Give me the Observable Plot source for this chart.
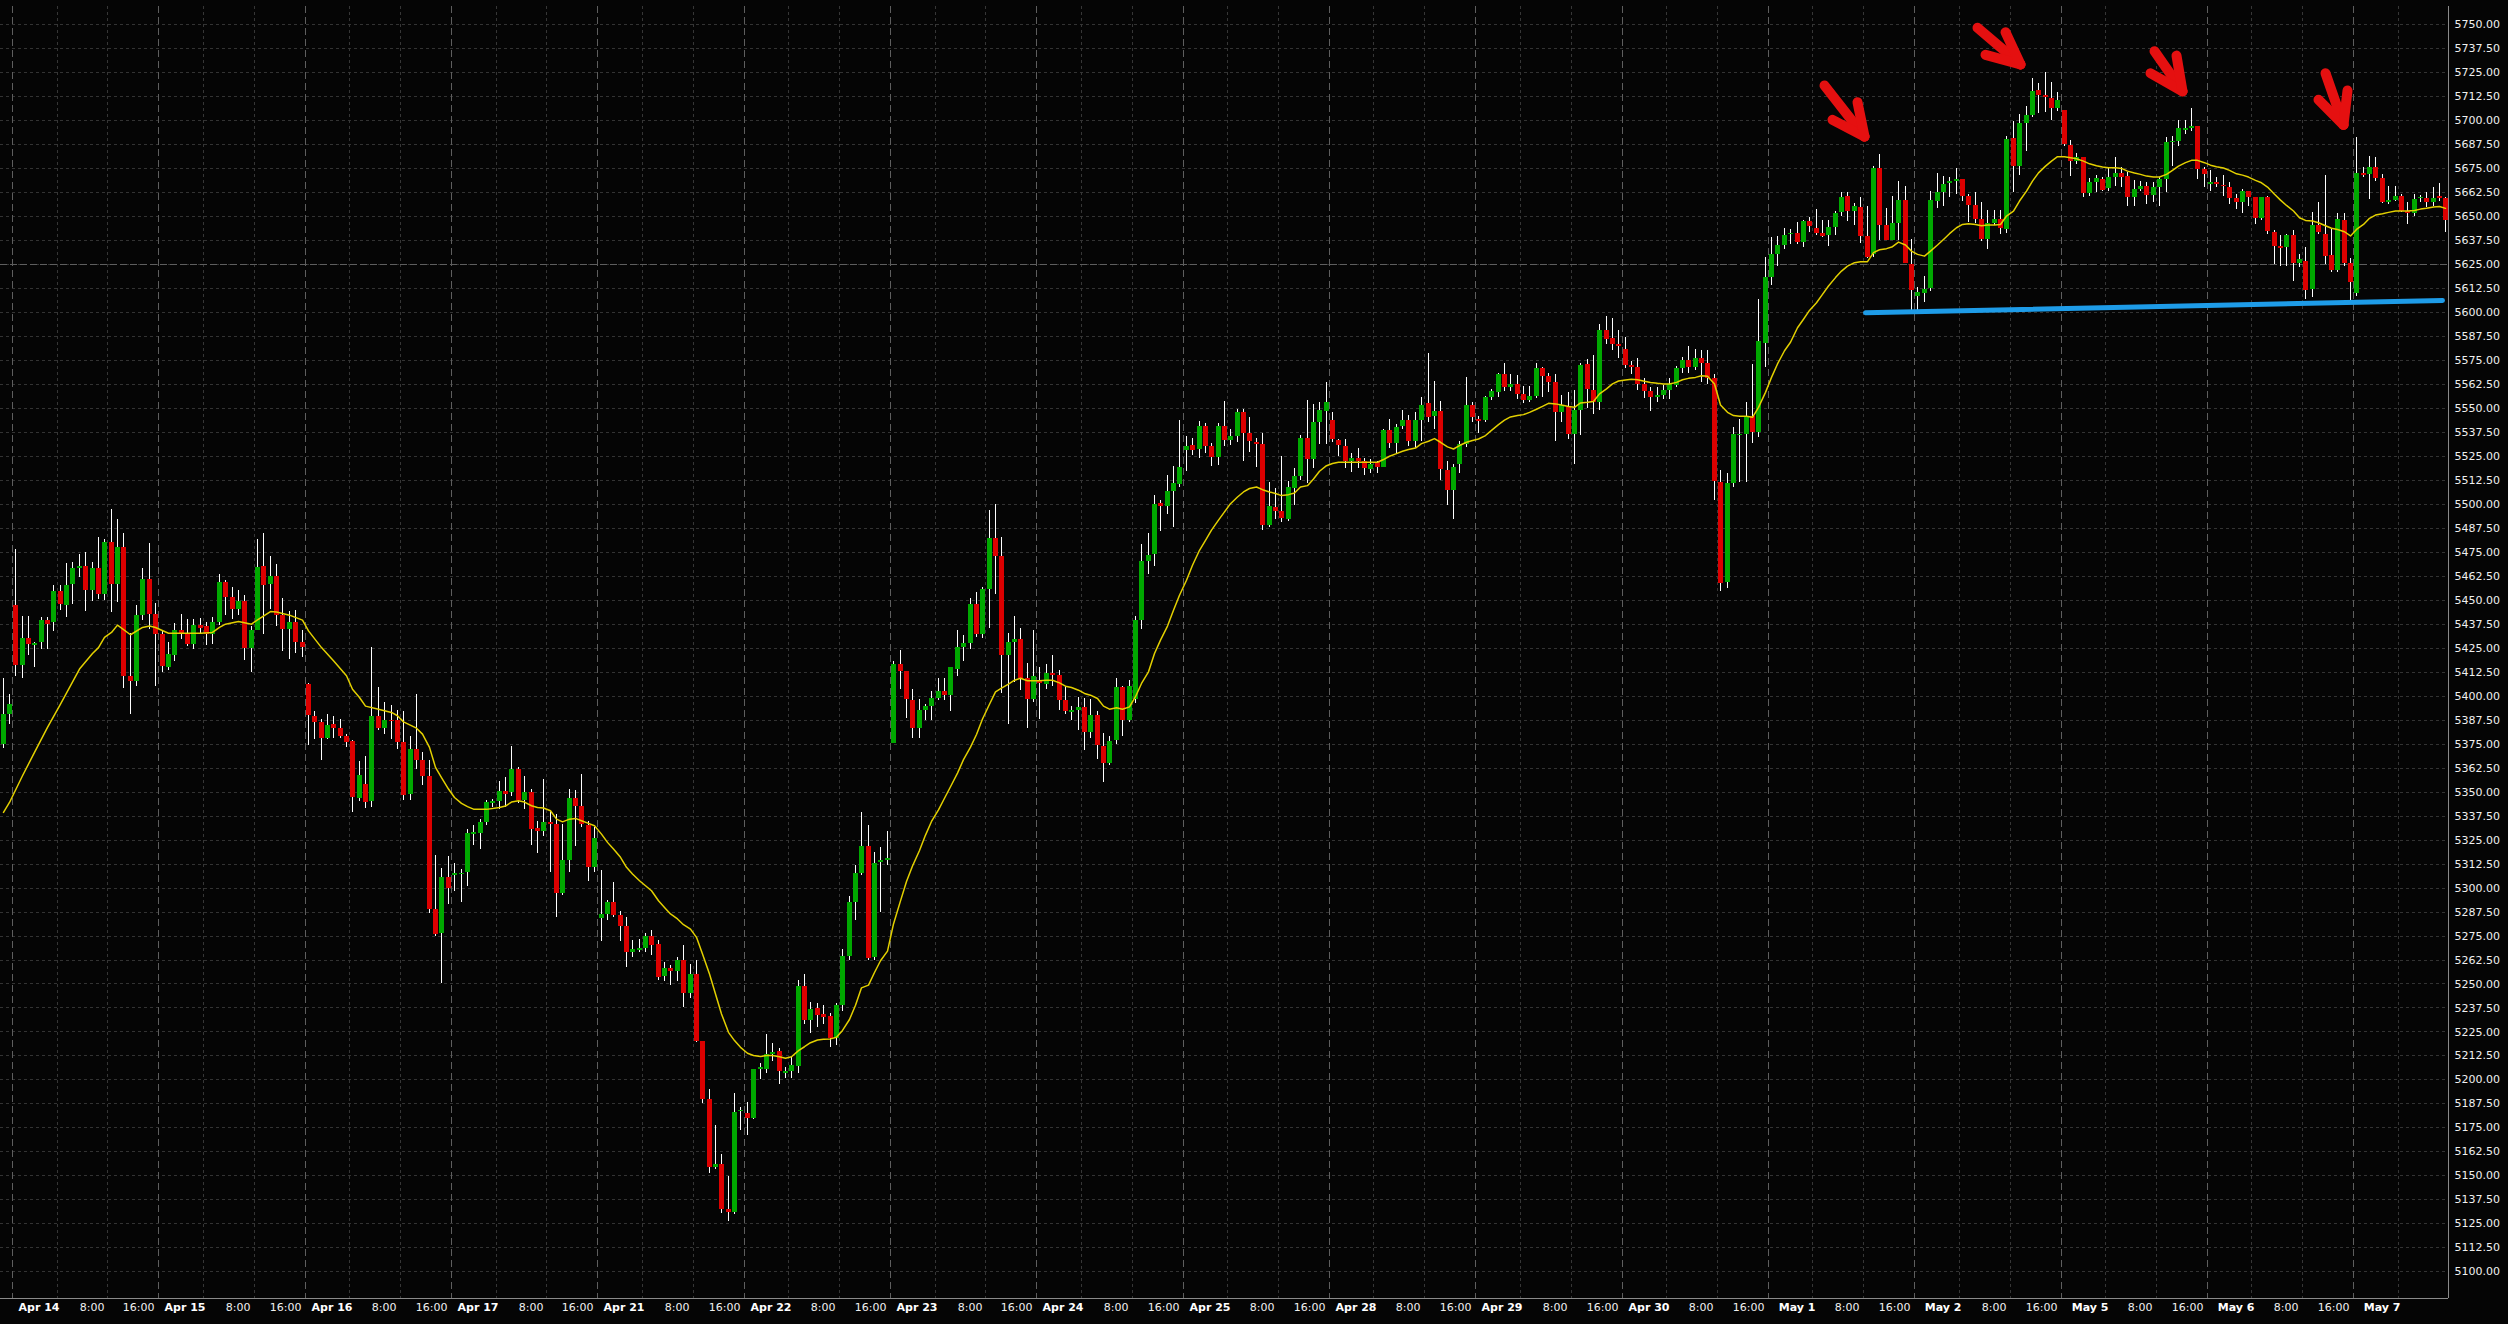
<!DOCTYPE html>
<html>
<head>
<meta charset="utf-8">
<script src="https://cdn.jsdelivr.net/npm/d3@7"></script>
<script src="https://cdn.jsdelivr.net/npm/@observablehq/plot@0.6"></script>
<style>
  html, body { margin: 0; padding: 0; background: #050505; }
  #chart { width: 2508px; height: 1324px; overflow: hidden; }
</style>
</head>
<body>
<div id="chart"></div>
<script>
// ---- Session labels (one session = 23 hourly bars) ----
const days = ["Apr 14","Apr 15","Apr 16","Apr 17","Apr 21","Apr 22","Apr 23","Apr 24","Apr 25",
              "Apr 28","Apr 29","Apr 30","May 1","May 2","May 5","May 6","May 7"];
const timeLabels = [["8:00", 7], ["16:00", 15]];   // label, bars after session open
const barsPerSession = 23;
const firstSessionOpen = 1.5;                        // bar position of the "Apr 14" boundary

// ---- Price axis ticks ----
const yTicks = d3.range(5100, 5750.001, 12.5);
const brightLevel = [5625];

// ---- Hourly candles [open, high, low, close] ----
const candles = [
[5375,5409.4,5372.9,5390.3],[5390.3,5401,5385.4,5395.8],[5447,5476.6,5410,5415.8],[5415.8,5441.7,5409.2,5429.9],
[5429.9,5441.7,5421,5426.7],[5426.2,5428,5415,5427.4],[5427.8,5441,5424.1,5439.6],[5439.6,5441,5424.1,5437.5],
[5438.4,5457.5,5433.5,5454.3],[5454.3,5457.8,5444.4,5447.6],[5447,5469.3,5441,5457.8],[5458,5469.6,5448,5466.7],
[5466.3,5473.6,5461.8,5467.4],[5467.4,5474.7,5444.1,5454.9],[5454.9,5469.6,5449.3,5466.7],[5466.3,5482.8,5450.5,5452.8],
[5452.8,5481.4,5449.7,5479.9],[5479.9,5497.4,5443.6,5458],[5458,5491.8,5448.8,5477.3],[5477.3,5484.7,5404,5410.2],
[5410.2,5432.8,5390.3,5407.6],[5407.6,5447,5404.9,5441.8],[5441.8,5466.3,5439.6,5460.6],[5460.6,5479.5,5434.9,5442.4],
[5442.4,5448.3,5404.9,5432],[5432,5434.4,5412.2,5415.3],[5414.9,5427.8,5413.2,5421.5],[5421,5437.8,5418,5434],
[5434,5442.4,5429.7,5432.3],[5432.3,5439.9,5425.7,5427.1],[5427.1,5439.9,5424.1,5436.6],[5436.6,5440.4,5431.9,5435.4],
[5436.1,5438.4,5426.2,5431.9],[5431.9,5441,5427.1,5438.2],[5438.2,5463.2,5436.6,5459],[5459,5460.4,5441.8,5451.4],
[5451.4,5456.6,5440.1,5445],[5445,5454.9,5441.8,5449.1],[5449.1,5452.3,5418.4,5425],[5425,5436.1,5412.3,5434],
[5434.2,5481.8,5434,5466.8],[5467.4,5484.9,5431.9,5457.6],[5458,5472.6,5445.3,5462.2],[5462.2,5468.4,5436.1,5441.8],
[5441.8,5451,5423.3,5434.5],[5434.5,5444.1,5419.1,5438.2],[5438.2,5444.4,5422.4,5427.9],[5427.8,5434,5420.1,5425.2],
[5405.9,5406.6,5374.1,5389.8],[5389.2,5391.8,5377.3,5386.4],[5386.1,5388,5366.7,5378],[5378,5390.6,5377.6,5384.6],
[5385.1,5389.6,5378,5383.2],[5383,5388,5378,5379.2],[5378.8,5380.2,5373.2,5375.9],[5376.2,5376.7,5339.4,5347.2],
[5346.7,5366,5345,5358.5],[5353.7,5368.4,5341.7,5344.6],[5345,5425.2,5342,5389.2],[5389.2,5404.5,5382,5383.3],
[5383.3,5396.5,5380.2,5387.5],[5387.5,5395.3,5377.6,5386.6],[5387.2,5392.4,5372.4,5375.9],[5375.9,5392.2,5345.4,5348.1],
[5348.6,5378.8,5345.4,5372],[5372,5400.7,5362,5366.3],[5366.3,5370.7,5353.3,5358],[5358,5366.3,5286.8,5288.7],
[5288.7,5316.8,5274.6,5276],[5276.4,5310,5250.3,5305.6],[5305.6,5316.3,5291.3,5299.8],[5306.3,5312.9,5298.1,5307.8],
[5306.8,5309.9,5292.5,5307.6],[5308.2,5330.7,5300.7,5328.5],[5327.7,5332.5,5322.1,5328.8],[5328.5,5335.9,5320.3,5334.2],
[5334.2,5345.5,5332.5,5344.6],[5344,5346.4,5342.2,5345.3],[5345.3,5355.6,5340.9,5350.4],[5350.4,5357.8,5342,5348.8],
[5349.7,5373.8,5347.6,5361.7],[5361.6,5362.8,5344.1,5345.8],[5345.8,5358.1,5340.9,5349.7],[5349.7,5351.1,5322.2,5330.6],
[5330.9,5334.5,5318,5329.5],[5329.5,5356.4,5326.7,5334],[5334,5340.3,5308.2,5333.2],[5333.3,5338.2,5284.7,5297.2],
[5297.2,5333.3,5296,5314.2],[5314.2,5351.6,5308.2,5346.5],[5346.5,5350.7,5321.5,5342.4],[5342.7,5359.4,5331.6,5333],
[5332.5,5334.7,5303.5,5310.8],[5310.8,5331.6,5308.2,5325.7],[5284.2,5309,5272.2,5286.2],[5286.3,5293.7,5283,5292.7],
[5292.4,5302.8,5284.7,5285.6],[5285.6,5287.7,5272,5280],[5280,5284.4,5258.7,5266.5],[5266.5,5272.6,5263.9,5267.9],
[5267.4,5273.4,5266.5,5268.6],[5268.6,5276.4,5266.5,5274.7],[5274.7,5277.8,5264.8,5270],[5270.5,5272.6,5251.7,5253.5],
[5253.8,5261.3,5251.4,5258],[5258,5259.7,5249.1,5256.6],[5256.6,5263.9,5251.4,5262.2],[5262.2,5270,5237.8,5245.1],
[5245.1,5260.4,5242.7,5254.9],[5254.9,5262.2,5219.6,5220.1],[5220.1,5220.1,5187.5,5189.8],[5189.8,5194.8,5151,5154.5],
[5154.2,5176.2,5153.1,5156],[5156,5161.1,5130.2,5132.5],[5132.5,5149.7,5126.4,5131.1],[5131.1,5193,5129.9,5183.2],
[5183.5,5185.8,5173.6,5184.3],[5182.3,5188.4,5171,5180],[5180,5205.4,5179.2,5205.4],[5205.4,5208.7,5200,5206.3],
[5205.7,5223.6,5203.1,5213.5],[5213.5,5218.8,5209.7,5214.5],[5214.7,5216.3,5197.6,5204.6],[5203.6,5206.7,5200.6,5204.6],
[5204.6,5211.7,5200.6,5207.7],[5207.1,5252,5203.2,5248.6],[5248.6,5255,5228.8,5230.8],[5230.8,5240.3,5224.2,5236.7],
[5237.3,5240,5227.2,5233.5],[5233.9,5238.9,5228.8,5232.7],[5233.3,5234.5,5216.7,5221.4],[5221.4,5240,5217.7,5238.9],
[5238.9,5268.1,5235.9,5264.1],[5264.1,5295.4,5262.5,5292.3],[5292.3,5311.5,5283.3,5307.5],[5307.5,5339.5,5306.5,5321.4],
[5321.4,5332.7,5262.5,5263.1],[5263.7,5318.5,5262.1,5312.9],[5313.3,5320.9,5287.3,5314.5],[5314.5,5329.6,5311.5,5315.1],
[5375.2,5417.9,5375.2,5416.7],[5416.7,5423.8,5403.6,5412.7],[5412.7,5412.7,5388.1,5398],[5397.6,5403.6,5378,5382.9],
[5382.9,5398.2,5378,5392.5],[5392.5,5395.6,5387.1,5394.8],[5394.8,5402.2,5387.5,5398.8],[5398.8,5409.3,5397.6,5402.2],
[5402.2,5409.3,5397.6,5400.2],[5400.2,5414.9,5392.1,5414.7],[5414.1,5434.3,5410.3,5425.4],[5425.4,5431.5,5418.1,5427.4],
[5427.4,5450.8,5424.4,5447.6],[5447.6,5454,5430.8,5431.9],[5431.9,5456.7,5429.8,5455.6],[5455.6,5496.6,5435.3,5482.3],
[5482.3,5499.8,5453.2,5472.8],[5472.8,5482.9,5401.2,5421],[5421,5432.5,5385.1,5428],[5428.2,5441.5,5407.3,5429.6],
[5429.6,5435.5,5403.2,5409.3],[5409.2,5417,5383.2,5398.3],[5398.3,5434,5396.5,5410],[5407.8,5415,5387.8,5406.6],
[5406.3,5416.5,5403.5,5411.8],[5411.8,5421,5405,5410.6],[5410.9,5413.5,5392.7,5397.9],[5397.6,5404.9,5390.5,5391.8],
[5391.3,5394.4,5387.5,5392.7],[5392.7,5399.1,5382.3,5394.1],[5394.1,5398.8,5371.9,5380.9],[5380.9,5398.3,5378,5389.8],
[5389.8,5391.8,5367,5374.1],[5373.6,5380.6,5354.9,5365],[5365,5378.8,5364.1,5376.6],[5377.1,5409.2,5374.8,5404.3],
[5404.3,5405.2,5378.8,5387.5],[5387.5,5408,5386.3,5404.9],[5398.3,5441.3,5396,5439.2],[5439.2,5479,5434.7,5470],
[5470,5484.5,5463.4,5473.1],[5474,5504.5,5467.4,5499.8],[5500.2,5501.7,5485.9,5499],[5498.6,5514.9,5494.6,5506.4],
[5506.4,5519.8,5487.8,5510.8],[5510.4,5543.8,5508.7,5519.4],[5528.1,5535.1,5517,5529.9],[5530.4,5534.4,5525.2,5528.1],
[5528.5,5542.9,5524,5540.6],[5540.3,5542,5526.4,5530.2],[5529.9,5531.9,5519.8,5524.3],[5524.3,5542,5520.3,5540.3],
[5540.3,5553.3,5530.2,5533.3],[5533.3,5538.9,5530.7,5535.1],[5535.1,5549.3,5532.1,5547.6],[5547.6,5549.3,5522.2,5536.8],
[5536.8,5545.1,5526.9,5532.6],[5532.1,5534.5,5519.4,5531.1],[5530.9,5536.8,5486.5,5488.7],[5488.7,5511.1,5487.8,5498.6],
[5498.1,5508,5492,5496],[5496,5524.7,5490.3,5492.5],[5492,5512,5491.1,5508.5],[5508,5518.4,5499.3,5514.2],
[5514.2,5535.8,5512.3,5534.5],[5534.5,5554.2,5510.8,5523.3],[5523.3,5551.9,5518.4,5542.4],[5542.4,5553.1,5531.1,5548.6],
[5548.3,5563.2,5531.1,5552.8],[5543.4,5547.9,5532,5533.7],[5533.2,5533.7,5525,5530.6],[5530.2,5533.7,5518.7,5522.2],
[5522.2,5526.4,5516.3,5524.1],[5524.1,5529.3,5518.4,5522.2],[5522.2,5524,5514.9,5518.4],[5518.1,5523.3,5516,5520.5],
[5521.5,5522.4,5515.8,5519.4],[5519.4,5538.9,5518.9,5538.2],[5538.2,5544.1,5529.3,5531.6],[5531.6,5541.5,5526.7,5539.8],
[5540.3,5549.1,5538.9,5543.4],[5543.4,5546.4,5530.2,5532.5],[5532.5,5547.6,5529.2,5543.4],[5543.4,5555.4,5532.8,5551.7],
[5552.3,5578.8,5542.4,5545.1],[5545.7,5564.1,5538.9,5548.1],[5548.1,5553.6,5512.5,5518.1],[5517.5,5522.4,5499.5,5507],
[5507,5520.7,5492,5519.4],[5520.6,5532.8,5516,5530.9],[5530.9,5565.8,5529.6,5551.7],[5551.7,5553.1,5542.4,5545],
[5544.1,5545.5,5536.8,5542.9],[5543.4,5555.9,5542.7,5555.4],[5555.4,5559.7,5554.2,5558.5],[5558,5568.1,5555.7,5567.4],
[5567.4,5573.6,5558.5,5560.6],[5560.8,5567.4,5558.9,5562.2],[5562.2,5567,5554.5,5557],[5557,5561.5,5552.4,5554],
[5554,5561.5,5553.1,5555.9],[5556.3,5573.6,5555,5570.5],[5570.5,5571,5555.7,5566.5],[5566.5,5567.9,5558,5563.5],
[5563.2,5567.5,5532.6,5547.9],[5547.9,5556.9,5542.7,5551.2],[5550.3,5558.3,5534,5536.6],[5536.6,5559.5,5520.5,5549.1],
[5549.1,5573.1,5535.8,5572.1],[5572.7,5575.3,5550,5559.7],[5559.5,5577.4,5546.7,5553.1],[5553.1,5593.9,5548.8,5590.3],
[5590.3,5597.7,5583,5586.1],[5586.5,5597,5580,5583],[5583.2,5590.5,5575.7,5582.1],[5580.4,5587,5570.8,5572.2],
[5572.2,5574.3,5567.5,5571.2],[5571,5575.7,5559.2,5562.3],[5562.3,5565.6,5555.2,5558.7],[5558.7,5560.9,5548.3,5555.4],
[5555.4,5560.6,5553.1,5556.9],[5556.9,5561.8,5554.5,5559.2],[5559.2,5565.6,5554.5,5562.3],[5561.8,5571.9,5560.9,5570.5],
[5570.5,5576.6,5567.9,5574.7],[5574.7,5582.1,5567.9,5571],[5571,5580.9,5569.6,5576.2],[5576.2,5580,5563.5,5573.1],
[5573.1,5580,5562.3,5565.3],[5565.3,5567.5,5501.9,5511.8],[5511.1,5517.5,5454.5,5458.5],[5459.4,5515.8,5455.9,5510.6],
[5510.6,5539.8,5508.9,5536.1],[5535.6,5544.1,5511.1,5536.6],[5536.6,5552.8,5511.5,5545.7],[5545.7,5572.6,5531.4,5537.2],
[5537.2,5606.6,5534.9,5584.7],[5584,5628.6,5571,5618.4],[5617.9,5639.1,5613.9,5630.2],[5630.2,5639.6,5624,5634.7],
[5634.7,5643.8,5633,5640.3],[5640.5,5643.4,5635.6,5641],[5641.3,5646.7,5635.1,5636.3],[5636.3,5647.9,5633.7,5647.6],
[5647.6,5649.3,5641.7,5644.6],[5643.8,5653.8,5639.8,5641.3],[5641.3,5647.9,5638.9,5639.6],[5639.8,5647.9,5634.5,5644.4],
[5644.4,5652.4,5639.8,5651.4],[5651.9,5662.2,5649.7,5660.1],[5660.6,5662.2,5647.6,5652.3],[5652.3,5656.6,5645.3,5654.9],
[5654.5,5659.7,5635.8,5639.4],[5639.4,5654.9,5628.1,5628.5],[5630.2,5675.9,5628.5,5675.2],[5675.2,5682.3,5637.2,5645],
[5645,5654,5637.2,5637.7],[5637.7,5660.6,5637.2,5646.5],[5646.5,5668.4,5637.5,5658.5],[5658.5,5665.8,5625.3,5625.3],
[5625,5638,5601,5611.5],[5608,5612.8,5601,5610.1],[5609.7,5618.9,5605,5611.8],[5612.3,5663.2,5611.1,5658.5],
[5658,5672.6,5654,5662.3],[5662.3,5671,5654.9,5666.7],[5667.4,5670.1,5659.7,5668.4],[5668.4,5675,5661.5,5669.4],
[5669,5669.4,5657.6,5660.6],[5660.6,5661.5,5646.7,5655.8],[5655.8,5662.2,5646.3,5648.4],[5648.4,5657.1,5636.9,5637.8],
[5637.8,5653.1,5633,5646.5],[5646.5,5653.3,5645.5,5648.4],[5648.6,5653.1,5640.6,5643.8],[5643.1,5691.8,5641,5690.3],
[5690.6,5699.3,5662.7,5675.9],[5676.2,5703.1,5671.4,5698.6],[5698.6,5707.1,5684,5702.8],[5702.8,5721.9,5701.4,5715.3],
[5715.8,5719.1,5703.5,5713.2],[5713.2,5724.8,5704,5711.8],[5711.5,5719.6,5700,5706.3],[5706.3,5714.8,5704.9,5710.4],
[5705.2,5705.2,5686.6,5687.5],[5687.2,5689.8,5670.7,5678.5],[5678.5,5683,5677.1,5680.6],[5680.6,5680.9,5659.7,5661.8],
[5661.8,5669.8,5660.2,5667.7],[5667.7,5671.5,5662.3,5669.8],[5669.3,5670.1,5663.2,5663.7],[5664.4,5675.3,5663.2,5670.5],
[5670.5,5680.6,5665.8,5672.6],[5672.6,5675.3,5664.9,5670.5],[5671,5672.7,5655,5659.7],[5659.7,5668.8,5655,5664.2],
[5664.2,5668.1,5663.2,5665.8],[5665.8,5667.5,5656.3,5660.8],[5660.8,5667.5,5657.1,5664.9],[5664.9,5670.5,5655,5669.1],
[5669.1,5691,5662.3,5688.7],[5688.4,5691.8,5676,5689.2],[5689.2,5700,5686.6,5695.7],[5694.6,5700.2,5692.7,5695.7],
[5695.7,5706.1,5694.3,5697],[5697,5697,5669.3,5674.3],[5674.3,5675.3,5664.9,5671.7],[5666.7,5674,5663.2,5667.4],
[5667.4,5670.1,5665.3,5666.7],[5666.3,5671.4,5660.6,5665.5],[5665.3,5667.5,5656.3,5659.4],[5659.2,5661.5,5653.6,5657.5],
[5657.5,5664.1,5651.4,5663.2],[5663.2,5663.2,5655,5659.7],[5659.7,5659.7,5645.8,5649],[5649,5659.7,5648,5659.7],
[5659.7,5660.6,5640.6,5642],[5641.5,5642.7,5625,5634.5],[5634.2,5640.1,5624.1,5633.2],[5633.7,5640.6,5624.1,5639.8],
[5639.8,5642.7,5616.3,5625.3],[5625.3,5630.2,5623.3,5627.3],[5626.7,5634,5606.8,5611.5],[5611.8,5651.9,5607.6,5645],
[5645.5,5657.1,5640.6,5641.8],[5640.6,5671.5,5625,5629.3],[5629.7,5643.8,5620.7,5621.9],[5621.9,5651.4,5620.7,5648.4],
[5647.9,5651.4,5624.1,5625.3],[5625.5,5627.9,5606.3,5615.5],[5609.7,5691,5608,5672.4],[5672.2,5675.3,5670.1,5671.2],
[5671.7,5681.4,5658.9,5675.7],[5675.3,5680.9,5668.4,5669.6],[5669.6,5671.9,5656.6,5657.1],[5657.1,5665.8,5656.3,5658.5],
[5658.5,5665.5,5658,5660.6],[5660.6,5661.5,5651.9,5652.8],[5652.8,5657.1,5645.8,5651.4],[5651.4,5661.5,5650.2,5658.9],
[5659.2,5661.1,5657.1,5660.1],[5659.4,5662.3,5654.5,5657.1],[5657.1,5664.9,5655.4,5659.4],[5660.1,5667.2,5658,5659.4],
[5659.4,5660.1,5641.5,5647.9]
];

// ---- Yellow moving average: [bar, value] ----
const movingAverage = [
[0,5339.4],[1,5344.6],[3,5358.5],[5,5370.7],[7,5383.7],[9,5395.8],[12,5414.1],[14,5422.2],[15,5425.3],[16,5430.6],
[17,5433.2],[18,5437],[20,5432],[22,5435.8],[23,5436.5],[24,5435.8],[26,5432.8],[28,5432.8],[31,5432.8],[33,5433.2],
[34,5435.8],[35,5437.5],[37,5438.9],[39,5437.5],[40,5439.8],[42,5444.1],[43,5443.8],[45,5442.2],[47,5439.6],[48,5434],
[50,5425.3],[52,5418.4],[54,5410.6],[55,5403.6],[56,5399.3],[57,5394.8],[59,5393.2],[61,5391.5],[62,5389.8],[63,5386.6],
[65,5383.3],[66,5380.2],[67,5373.3],[68,5362.9],[69,5357.6],[70,5351.6],[71,5347.2],[72,5344.1],[73,5342.4],[74,5341.1],
[76,5341],[78,5342],[79,5342.7],[80,5344.8],[81,5345.5],[82,5344.8],[83,5342.9],[84,5342],[85,5341.7],[86,5340.3],
[87,5335.9],[88,5334.5],[89,5335.9],[90,5336.3],[91,5335.1],[92,5333.7],[93,5332.5],[94,5328.1],[95,5323.8],[96,5320.3],
[97,5316],[98,5310.8],[99,5307.3],[100,5303.8],[101,5301.2],[102,5298.6],[103,5293.4],[104,5289.9],[105,5286.5],[106,5283.9],
[107,5280.9],[108,5278.6],[109,5274.3],[110,5265.6],[111,5255.2],[112,5244.8],[113,5234.4],[114,5224.8],[115,5220.5],[116,5217],
[117,5213.9],[118,5212.7],[119,5212.2],[120,5212.7],[121,5212.7],[122,5212.1],[123,5211.3],[124,5212.1],[125,5215.3],[126,5217.3],
[127,5219.4],[128,5220.8],[129,5221.2],[130,5221.4],[131,5222.2],[132,5225.8],[133,5231.5],[134,5238.9],[135,5248],[136,5249.4],
[137,5256],[138,5262.1],[139,5267.1],[140,5281.3],[141,5293.3],[142,5303.4],[143,5311.5],[144,5319.6],[145,5327.6],[146,5334.7],
[147,5340.7],[148,5346.8],[149,5352.8],[150,5359.9],[151,5366.9],[152,5373.4],[153,5380],[154,5388.1],[155,5395.8],[156,5402.2],
[157,5404.2],[158,5406.3],[159,5408.3],[160,5409.3],[161,5408],[162,5408],[163,5408],[164,5408.3],[165,5408.3],[166,5406.9],
[167,5405.2],[168,5404.5],[169,5403.1],[170,5401.4],[171,5400.5],[172,5398.8],[173,5394.8],[174,5393.2],[175,5393.9],[176,5393.2],
[177,5394.4],[178,5399.7],[179,5406.6],[180,5412.7],[181,5422.2],[182,5429.2],[183,5436.5],[184,5444.8],[185,5452.6],[186,5460.4],
[187,5468.2],[188,5476],[189,5481.2],[190,5486.5],[191,5491.7],[192,5496],[193,5500.3],[194,5503.8],[195,5506.4],[196,5508.2],
[197,5509],[198,5507.6],[199,5506.4],[200,5505.6],[201,5504.5],[202,5505],[203,5505.9],[204,5509],[205,5509.7],[206,5513.2],
[207,5517.2],[208,5520.1],[209,5521.2],[210,5521.9],[216,5521.9],[217,5523.3],[218,5525],[219,5526.4],[220,5527.6],[221,5528.5],
[222,5529.3],[223,5531.6],[224,5532.8],[225,5534.2],[226,5532.3],[227,5529.9],[228,5528.8],[229,5530.6],[230,5532.3],[231,5533.2],
[232,5534],[233,5535.8],[234,5538.5],[235,5541.5],[236,5543.8],[237,5545.5],[238,5546.2],[239,5546.7],[240,5547.9],[241,5549.5],
[242,5551],[243,5552.6],[244,5552.3],[245,5551.7],[246,5550.9],[247,5550.5],[248,5552.8],[249,5553.1],[250,5553.5],[251,5557.5],
[252,5560.1],[253,5562.7],[254,5564.2],[255,5564.8],[256,5565.1],[257,5564.9],[258,5564.1],[259,5563.5],[260,5563],[261,5562.7],
[262,5562.7],[263,5563.5],[264,5564.9],[265,5565.6],[266,5566.1],[267,5567],[268,5566.7],[269,5562.7],[270,5551.7],[271,5547.9],
[272,5546.2],[273,5545.8],[274,5545.8],[275,5545.3],[276,5550.5],[277,5558.3],[278,5566.1],[279,5573.1],[280,5580],[281,5584.4],
[282,5592],[283,5596.4],[284,5601],[285,5605],[286,5609.4],[287,5613.7],[288,5618.1],[289,5621.5],[290,5624.1],[291,5625.9],
[292,5626.4],[293,5626.4],[294,5631.1],[295,5632.6],[296,5633.2],[297,5634.2],[298,5636.6],[299,5635.1],[300,5631.9],[301,5630.2],
[302,5629.3],[303,5631.9],[304,5635.1],[305,5638],[306,5641],[307,5644.1],[308,5645.8],[309,5646.2],[310,5645.8],[311,5645.1],
[312,5645.5],[313,5645.5],[314,5645.8],[315,5650.2],[316,5652.8],[317,5658],[318,5663.2],[319,5668.4],[320,5672.7],[321,5676.2],
[322,5678.8],[323,5681.1],[324,5681.1],[325,5680.6],[326,5680],[327,5678.8],[328,5677.4],[329,5676.4],[330,5675.7],[331,5675.3],
[332,5675.3],[333,5675],[334,5673.6],[335,5672.6],[336,5671.9],[337,5671],[338,5670.5],[339,5670.5],[340,5671.9],[341,5674],
[342,5676.2],[343,5678],[344,5679.2],[345,5679.2],[346,5678],[347,5676.7],[348,5675.9],[349,5675.2],[350,5674],[351,5672.2],
[352,5671.5],[353,5670.5],[354,5668.8],[355,5667.5],[356,5665.3],[357,5661.5],[358,5658.5],[359,5655.7],[360,5652.8],[361,5649.3],
[362,5647.9],[363,5647.6],[364,5646.7],[365,5645.1],[366,5643.8],[367,5643.2],[368,5642],[369,5639.8],[370,5643.2],[371,5645.8],
[372,5649],[373,5650.7],[374,5651.4],[375,5652.1],[376,5652.8],[377,5652.8],[378,5652.8],[379,5653.1],[380,5653.8],[381,5654.2],
[382,5654.9],[383,5655.2],[384,5654.2]
];

// ---- Hand-drawn annotations (bar, price) ----
const supportLine = [[292.7, 5599.8], [383.5, 5606.2]];
const arrowTails = [[286.3,5718.2],[310.4,5748.3],[338.2,5736.1],[365.0,5724.6]];
const arrowTips  = [[292.55,5691.6],[317.1,5729.2],[342.6,5715.2],[367.9,5697.7]];
const arrowWingA = [[287.6,5700.3],[311.6,5734.2],[337.5,5724.6],[363.9,5710.8]];
const arrowWingB = [[291.5,5709.5],[314.7,5746],[341.6,5733.8],[368.5,5715.6]];

// ---- Build tables ----
const GREEN = "#00a800", RED = "#dc0000";
const bars = candles.map(([o, h, l, c], i) => ({i, o, h, l, c}));
const minBody = 0.8;
const bodies = bars.map(d => {
  let top = Math.max(d.o, d.c), bot = Math.min(d.o, d.c);
  if (top - bot < minBody) { const m = (top + bot) / 2; top = m + minBody / 2; bot = m - minBody / 2; }
  return {i: d.i, top, bot, color: d.c >= d.o ? GREEN : RED};
});

const sessionTicks = days.map((label, k) => ({i: firstSessionOpen + k * barsPerSession, label}));
const timeTicks = [];
days.forEach((_, k) => timeLabels.forEach(([label, off]) =>
  timeTicks.push({i: firstSessionOpen + k * barsPerSession + off, label})));

const xDomain = [-0.393, 384.4];
const yDomain = [5086.11, 5759.38];
const visT = timeTicks.filter(t => t.i <= xDomain[1]);
const visS = sessionTicks.filter(t => t.i <= xDomain[1]);
// labels are drawn only where they fit before the right edge
const labT = visT.filter(t => t.i + 8 <= xDomain[1]);

const links = [];
arrowTails.forEach((t, k) => {
  const tip = arrowTips[k];
  links.push({x1: t[0], y1: t[1], x2: tip[0], y2: tip[1]});
  links.push({x1: arrowWingA[k][0], y1: arrowWingA[k][1], x2: tip[0], y2: tip[1]});
  links.push({x1: arrowWingB[k][0], y1: arrowWingB[k][1], x2: tip[0], y2: tip[1]});
});

const chart = Plot.plot({
  width: 2508,
  height: 1324,
  marginLeft: 0,
  marginRight: 60,
  marginTop: 6,
  marginBottom: 26,
  style: {background: "#050505", color: "#ffffff", fontFamily: "'DejaVu Sans', sans-serif", fontSize: "11px"},
  x: {domain: xDomain, axis: null, round: true},
  y: {domain: yDomain, axis: null},
  marks: [
    // grid
    Plot.ruleY(yTicks, {y: d => d, stroke: "#333333", strokeDasharray: "3,3", shapeRendering: "crispEdges"}),
    Plot.ruleX(visT, {x: "i", stroke: "#363636", strokeDasharray: "3,3", shapeRendering: "crispEdges"}),
    Plot.ruleX(visS, {x: "i", stroke: "#5e5e5e", strokeDasharray: "7,4", shapeRendering: "crispEdges"}),
    Plot.ruleY(brightLevel, {y: d => d, stroke: "#5e5e5e", strokeDasharray: "7,3", shapeRendering: "crispEdges"}),
    // candles: wick, then body
    Plot.ruleX(bars, {x: "i", y1: "l", y2: "h", stroke: "#ffffff", strokeWidth: 1, shapeRendering: "crispEdges"}),
    Plot.ruleX(bodies, {x: "i", y1: "bot", y2: "top", stroke: "color", strokeWidth: 5, shapeRendering: "crispEdges"}),
    // moving average
    Plot.line(movingAverage, {x: d => d[0], y: d => d[1], stroke: "#e3d000", strokeWidth: 1.5, curve: "linear"}),
    // support line
    Plot.line(supportLine, {x: d => d[0], y: d => d[1], stroke: "#1e9ce8", strokeWidth: 5}),
    // arrows
    Plot.link(links, {x1: "x1", y1: "y1", x2: "x2", y2: "y2", stroke: "#e51010", strokeWidth: 10,
                      strokeLinecap: "round", strokeLinejoin: "round"}),
    // axis lines
    Plot.ruleX([xDomain[1]], {stroke: "#8a8a8a", strokeWidth: 1}),
    Plot.ruleY([yDomain[0]], {stroke: "#8a8a8a", strokeWidth: 1}),
    // y labels
    Plot.text(yTicks, {x: xDomain[1], y: d => d, text: d => d.toFixed(2), textAnchor: "start", dx: 6,
                       fill: "#f0f0f0", fontSize: 11}),
    // x labels
    Plot.text(visS, {x: "i", frameAnchor: "bottom", text: "label", textAnchor: "end", dx: 47, dy: 12,
                     fill: "#ffffff", fontSize: 11, fontWeight: "bold"}),
    Plot.text(labT, {x: "i", frameAnchor: "bottom", text: "label", textAnchor: "end", dx: 47, dy: 12,
                     fill: "#f0f0f0", fontSize: 11})
  ]
});
document.getElementById("chart").appendChild(chart);
</script>
</body>
</html>
